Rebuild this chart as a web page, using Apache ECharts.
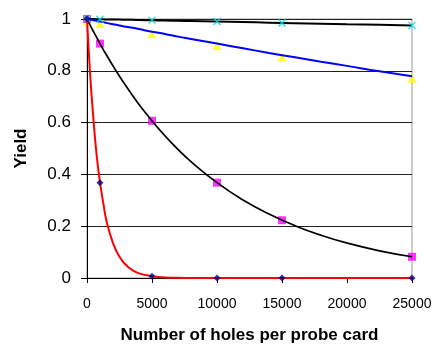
<!DOCTYPE html>
<html><head><meta charset="utf-8">
<script src="https://cdn.jsdelivr.net/npm/echarts@6/dist/echarts.min.js"></script>
<style>html,body{margin:0;padding:0;background:#fff}#c{width:435px;height:349px}</style>
</head><body><div id="c"></div>
<script>
// Smooth curve sample positions (holes per probe card)
const curveX = [0, 250, 500, 750, 1000, 1250, 1500, 2000, 2500, 3000, 3500, 4000, 5000, 6000, 7000, 8000, 10000, 12000, 14000, 16000, 18000, 20000, 22500, 25000];
// Curves
const redCurve   = [1, 0.78, 0.61, 0.47, 0.37, 0.29, 0.22, 0.135, 0.082, 0.05, 0.03, 0.018, 0.007, 0.002, 0.001, 0, 0, 0, 0, 0, 0, 0, 0, 0];
const blackCurve = [1, 0.975, 0.951, 0.928, 0.905, 0.882, 0.861, 0.819, 0.779, 0.741, 0.705, 0.670, 0.607, 0.549, 0.497, 0.449, 0.368, 0.301, 0.247, 0.202, 0.165, 0.135, 0.105, 0.082];
const blueCurve  = [1, 0.998, 0.995, 0.993, 0.990, 0.988, 0.985, 0.980, 0.975, 0.970, 0.966, 0.961, 0.951, 0.942, 0.932, 0.923, 0.905, 0.887, 0.869, 0.852, 0.835, 0.819, 0.798, 0.779];
const topCurve   = [1, 1, 1, 0.999, 0.999, 0.999, 0.998, 0.998, 0.998, 0.997, 0.997, 0.996, 0.995, 0.994, 0.993, 0.992, 0.990, 0.988, 0.986, 0.984, 0.982, 0.980, 0.978, 0.975];
// Marker positions
const markerX = [0, 1000, 5000, 10000, 15000, 25000];
const diamondY = [1, 0.368, 0.007, 0, 0, 0];
const squareY = [1, 0.905, 0.607, 0.368, 0.223, 0.082];
const triangleY = [1, 0.990, 0.951, 0.905, 0.861, 0.779];
const crossY = [1, 0.999, 0.995, 0.990, 0.985, 0.975];
// Axis ticks
const xTicks = [0, 5000, 10000, 15000, 20000, 25000];
const yTicks = [0, 0.2, 0.4, 0.6, 0.8, 1];

const pair = (xs, ys) => xs.map((x, i) => [x, ys[i]]);
const chart = echarts.init(document.getElementById('c'), null, {renderer: 'canvas'});
const font = '"Liberation Sans", Arial, sans-serif';
const crossPath = 'path://M0,0L10,10M10,0L0,10';
chart.setOption({
  animation: false,
  grid: {left: 87, right: 23, top: 19, bottom: 69, show: true, borderColor: '#999', borderWidth: 1},
  xAxis: {
    type: 'value', min: 0, max: 25000, interval: 5000,
    name: 'Number of holes per probe card', nameLocation: 'middle', nameGap: 49,
    nameTextStyle: {fontFamily: font, fontSize: 17, fontWeight: 'bold', color: '#000'},
    axisLine: {lineStyle: {color: '#000', width: 1}},
    axisTick: {show: true, length: 5, lineStyle: {color: '#000'}},
    axisLabel: {fontFamily: font, fontSize: 14, color: '#000', margin: 19,
      formatter: v => String(xTicks.find(t => Math.abs(t - v) < 1e-6) ?? v)},
    splitLine: {show: false}
  },
  yAxis: {
    type: 'value', min: 0, max: 1, interval: 0.2,
    name: 'Yield', nameLocation: 'middle', nameGap: 57, nameRotate: 90,
    nameTextStyle: {fontFamily: font, fontSize: 17, fontWeight: 'bold', color: '#000'},
    axisLine: {show: true, lineStyle: {color: '#000', width: 1}},
    axisTick: {show: true, length: 6, lineStyle: {color: '#000'}},
    axisLabel: {fontFamily: font, fontSize: 17, color: '#000', margin: 16,
      formatter: v => String(yTicks.find(t => Math.abs(t - v) < 1e-6) ?? v)},
    splitLine: {show: true, lineStyle: {color: '#222', width: 1}}
  },
  series: [
    {type: 'scatter', data: pair(markerX, triangleY), symbol: 'triangle', symbolSize: 9, symbolOffset: [0, 2], itemStyle: {color: '#ffff00'}, z: 4},
    {type: 'scatter', data: pair(markerX, squareY), symbol: 'rect', symbolSize: 8, itemStyle: {color: '#ff00ff'}, z: 4},
    {type: 'line', data: pair(curveX, topCurve), showSymbol: false, smooth: true, lineStyle: {color: '#000', width: 2}, z: 5},
    {type: 'line', data: pair(curveX, blueCurve), showSymbol: false, smooth: true, lineStyle: {color: '#0000ff', width: 2}, z: 5},
    {type: 'line', data: pair(curveX, blackCurve), showSymbol: false, smooth: true, lineStyle: {color: '#000', width: 1.7}, z: 5},
    {type: 'line', data: pair(curveX, redCurve), showSymbol: false, smooth: true, lineStyle: {color: '#ff0000', width: 2}, z: 5},
    {type: 'scatter', data: pair(markerX, crossY), symbol: crossPath, symbolSize: 7, itemStyle: {color: 'none', borderColor: '#00e0e0', borderWidth: 1.5}, z: 6},
    {type: 'scatter', data: pair(markerX, diamondY), symbol: 'diamond', symbolSize: 7, itemStyle: {color: '#000080'}, z: 6}
  ]
});
</script></body></html>
